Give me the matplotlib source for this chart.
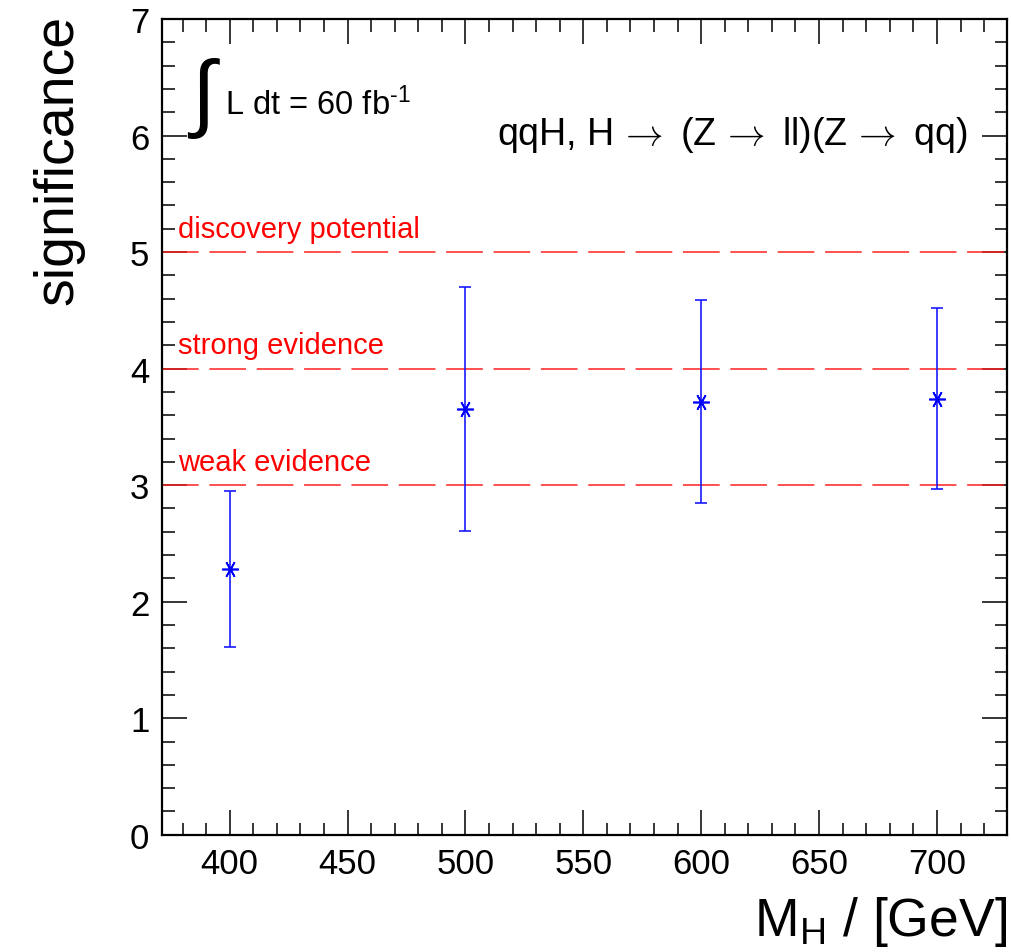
import matplotlib
matplotlib.use("Agg")
import matplotlib.pyplot as plt
from matplotlib.ticker import MultipleLocator
import numpy as np

plt.rcParams['font.family'] = ['Liberation Sans', 'DejaVu Sans']
plt.rcParams['mathtext.fontset'] = 'custom'
plt.rcParams['mathtext.rm'] = 'Liberation Sans'
plt.rcParams['mathtext.it'] = 'Liberation Sans'

# data
mass = [400, 500, 600, 700]
signif = [2.28, 3.65, 3.71, 3.74]
err_up = [2.95, 4.70, 4.59, 4.52]
err_down = [1.61, 2.61, 2.85, 2.97]
levels = [5, 4, 3]
level_names = ["discovery potential", "strong evidence", "weak evidence"]

sig = np.array(signif)
yerr = [sig - np.array(err_down), np.array(err_up) - sig]

fig = plt.figure(figsize=(10.11, 9.53), dpi=100)
ax = fig.add_axes([0.160, 0.123, 0.836, 0.856])

ax.set_xlim(371.2, 729.7)
ax.set_ylim(0, 7)

for lev, name in zip(levels, level_names):
    ax.axhline(lev, color='#ff2020', lw=1.1, dashes=(24, 7))
    ax.text(378, lev + 0.13, name, color='#ff0000', fontsize=21, ha='left', va='baseline')

ax.errorbar(mass, signif, yerr=yerr, fmt='none', ecolor='#1a1aff', elinewidth=1.2,
            capsize=4, capthick=1.2)
ax.plot(mass, signif, ls='none', marker=(6, 2, 90), ms=12, mew=1.2, color='#0000ff')

ax.text(389, 6.33, r"$\int$", fontsize=62, ha='center', va='center')
ax.text(398, 6.18, r"L dt = 60 fb$^{\text{-1}}$", fontsize=23.5, ha='left', va='baseline')
ax.text(713, 5.93, r"qqH, H$\,\rightarrow$ (Z$\,\rightarrow$ ll)(Z$\,\rightarrow$ qq)", fontsize=27,
        ha='right', va='baseline', math_fontfamily='cm')

ax.xaxis.set_major_locator(MultipleLocator(50))
ax.xaxis.set_minor_locator(MultipleLocator(10))
ax.yaxis.set_major_locator(MultipleLocator(1))
ax.yaxis.set_minor_locator(MultipleLocator(0.2))
ax.tick_params(which='both', direction='in', top=True, right=True, width=1.1, labelsize=25)
ax.tick_params(which='major', length=18, pad=9)
ax.tick_params(which='minor', length=9)
for s in ax.spines.values():
    s.set_linewidth(1.6)

ax.set_xlabel(r"M$_{\mathregular{H}}$ / [GeV]", fontsize=38.5, loc='right', labelpad=10)
ax.set_ylabel("significance", fontsize=40)
ax.yaxis.set_label_coords(-0.091, 1.006)
ax.yaxis.label.set_ha('right')
ax.yaxis.label.set_va('bottom')

fig.savefig("out.png", dpi=100)
